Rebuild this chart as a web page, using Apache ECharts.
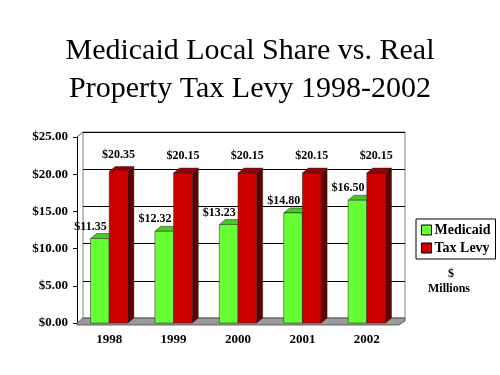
<!DOCTYPE html>
<html>
<head>
<meta charset="utf-8">
<script src="https://cdn.jsdelivr.net/npm/echarts@6/dist/echarts.min.js"></script>
<style>
  html, body { margin: 0; padding: 0; background: #fff; }
  #chart { width: 500px; height: 375px; }
</style>
</head>
<body>
<div id="chart"></div>
<script>
  // 数据
  var years = ['1998', '1999', '2000', '2001', '2002']
  var medicaid = [11.35, 12.32, 13.23, 14.80, 16.50]
  var taxLevy = [20.35, 20.15, 20.15, 20.15, 20.15]
  var yTicks = [0, 5, 10, 15, 20, 25]

  var DX = 6, DY = -5 // 3D depth
  var SERIF = '"Liberation Serif", "DejaVu Serif", serif'

  function money (v) { return '$' + v.toFixed(2) }

  // one 3D bar: front face, top, side, label
  function bar3d (slot, colors, labelDx, labelDy) {
    return function (params, api) {
      var cat = api.value(0)
      var val = api.value(1)
      var top = api.coord([cat, val])
      var base = api.coord([cat, 0])
      var w = api.size([1, 0])[0] * 0.29
      var x0 = slot === 0 ? top[0] - w : top[0]
      var t = top[1], b = base[1]
      return {
        type: 'group',
        children: [
          { type: 'polygon', shape: { points: [[x0 + w, t], [x0 + w + DX, t + DY], [x0 + w + DX, b + DY], [x0 + w, b]] },
            style: { fill: colors[2], stroke: '#222', lineWidth: 0.5 } },
          { type: 'polygon', shape: { points: [[x0, t], [x0 + w, t], [x0 + w + DX, t + DY], [x0 + DX, t + DY]] },
            style: { fill: colors[1], stroke: '#222', lineWidth: 0.5 } },
          { type: 'rect', shape: { x: x0, y: t, width: w, height: b - t },
            style: { fill: colors[0], stroke: '#222', lineWidth: 0.5 } },
          { type: 'text', x: x0 + labelDx * w, y: t + labelDy,
            style: { text: money(val), align: 'center', verticalAlign: 'middle',
              font: 'bold 12px ' + SERIF, fill: '#000' } }
        ]
      }
    }
  }

  // the gray floor and the corner edge
  function floor (params, api) {
    var cs = params.coordSys
    var yb = cs.y + cs.height
    var xl = cs.x, xr = cs.x + cs.width
    return {
      type: 'group',
      children: [
        { type: 'polygon', shape: { points: [[xl, yb], [xl + DX, yb + DY], [xr + DX, yb + DY], [xr + DX, yb + DY + 3], [xr, yb + 2], [xl, yb + 2]] },
          style: { fill: '#9a9a9a', stroke: '#333', lineWidth: 0.7 } },
        { type: 'line', shape: { x1: xl, y1: cs.y, x2: xl + DX, y2: cs.y + DY },
          style: { stroke: '#555', lineWidth: 1 } }
      ]
    }
  }

  var chart = echarts.init(document.getElementById('chart'))
  chart.setOption({
    animation: false,
    backgroundColor: '#fff',
    title: {
      text: 'Medicaid Local Share vs. Real\nProperty Tax Levy 1998-2002',
      left: 'center',
      top: 27,
      textStyle: { fontFamily: SERIF, fontWeight: 'normal', fontSize: 30, lineHeight: 38, color: '#000' }
    },
    legend: {
      orient: 'vertical',
      left: 416,
      top: 219,
      padding: [4, 5],
      itemGap: 4,
      itemWidth: 10,
      itemHeight: 10,
      borderColor: '#000',
      borderWidth: 1,
      icon: 'rect',
      textStyle: { fontFamily: SERIF, fontWeight: 'bold', fontSize: 14, color: '#000', padding: [0, 0, 0, -2] },
      data: [
        { name: 'Medicaid', itemStyle: { color: '#66ff33', borderColor: '#000', borderWidth: 1 } },
        { name: 'Tax Levy', itemStyle: { color: '#cc0000', borderColor: '#000', borderWidth: 1 } }
      ]
    },
    graphic: [
      { type: 'text', left: 448, top: 268, style: { text: '$', font: 'bold 12px ' + SERIF, fill: '#000' } },
      { type: 'text', left: 428, top: 283, style: { text: 'Millions', font: 'bold 12px ' + SERIF, fill: '#000' } }
    ],
    grid: [
      // front plane: axes
      { left: 77, right: 101, top: 137, bottom: 52 },
      // back wall: grid lines
      { left: 83, right: 95, top: 132, bottom: 57, show: true, borderColor: '#808080', borderWidth: 1, z: 0 }
    ],
    xAxis: [
      {
        type: 'category', gridIndex: 0, data: years,
        axisLine: { lineStyle: { color: '#000' } },
        axisTick: { length: 3, lineStyle: { color: '#000' } },
        axisLabel: { margin: 10, color: '#000', fontFamily: SERIF, fontWeight: 'bold', fontSize: 13 }
      },
      { type: 'value', gridIndex: 1, show: false }
    ],
    yAxis: [
      {
        type: 'value', gridIndex: 0, min: 0, max: 25, interval: 5,
        axisLine: { show: true, lineStyle: { color: '#000' } },
        axisTick: { show: true, length: 4, lineStyle: { color: '#000' } },
        splitLine: { show: false },
        axisLabel: { margin: 9, color: '#000', fontFamily: SERIF, fontWeight: 'bold', fontSize: 13,
          formatter: function (v) { return yTicks.indexOf(v) >= 0 ? money(v) : '' } }
      },
      {
        type: 'value', gridIndex: 1, min: 0, max: 25, interval: 5,
        axisLine: { show: false }, axisTick: { show: false }, axisLabel: { show: false },
        splitLine: { lineStyle: { color: '#000', width: 1 } }
      }
    ],
    series: [
      { type: 'custom', name: 'floor', xAxisIndex: 0, yAxisIndex: 0, renderItem: floor, data: [[0, 0]], z: 1, silent: true },
      {
        type: 'custom', name: 'Medicaid', xAxisIndex: 0, yAxisIndex: 0, z: 2,
        itemStyle: { color: '#66ff33' },
        renderItem: bar3d(0, ['#66ff33', '#4cc62a', '#2f8a1a'], 0, -12),
        data: medicaid.map(function (v, i) { return [i, v] })
      },
      {
        type: 'custom', name: 'Tax Levy', xAxisIndex: 0, yAxisIndex: 0, z: 3,
        itemStyle: { color: '#cc0000' },
        renderItem: bar3d(1, ['#cc0000', '#990000', '#5c0000'], 0.5, -17),
        data: taxLevy.map(function (v, i) { return [i, v] })
      }
    ]
  })
</script>
</body>
</html>
